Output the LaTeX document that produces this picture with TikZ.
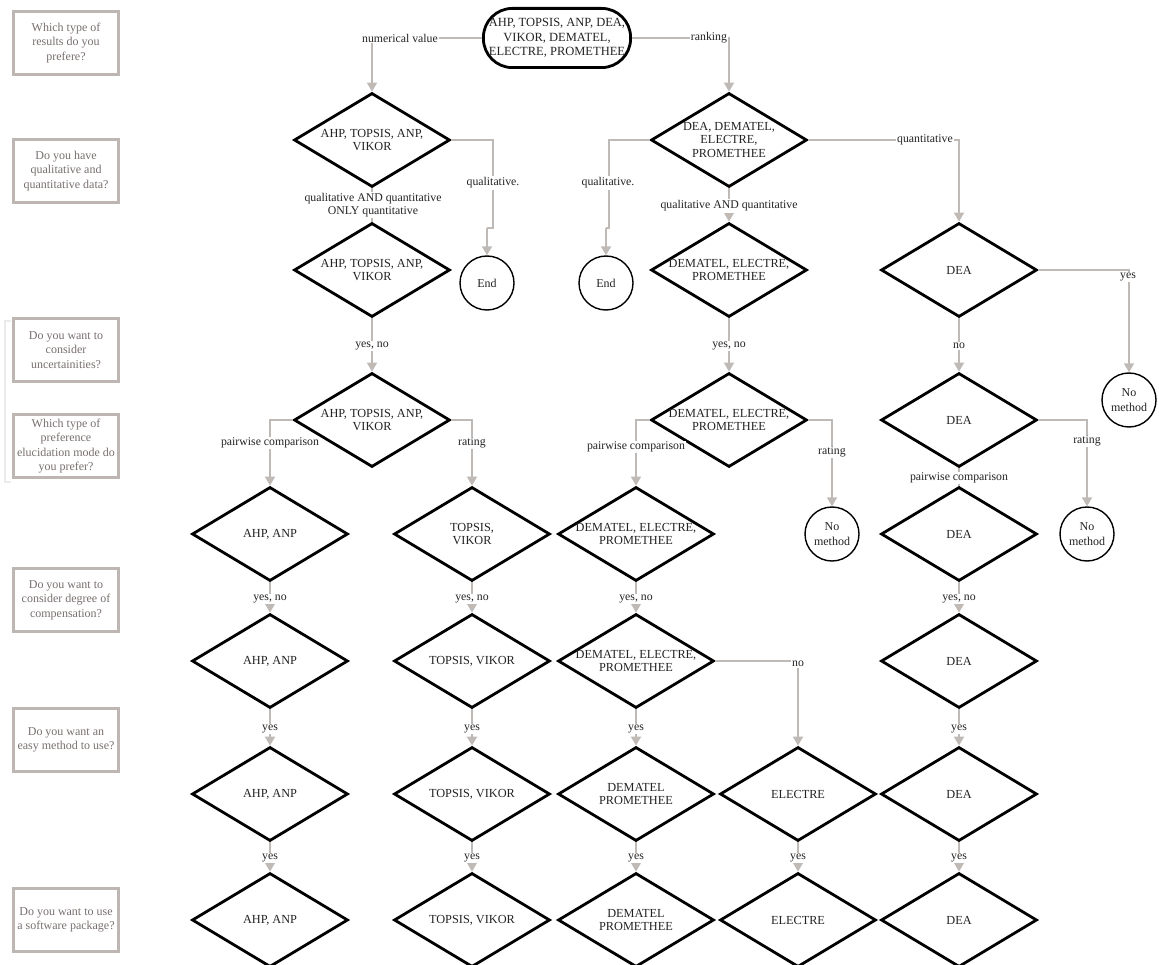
\documentclass[tikz,border=0pt]{standalone}
\usepackage{fontspec}
\setmainfont{Liberation Serif}
\usetikzlibrary{shapes.geometric,arrows.meta}
\definecolor{lgray}{RGB}{192,186,183}
\definecolor{qgray}{RGB}{190,182,178}
\definecolor{qtext}{RGB}{120,112,110}
\definecolor{ink}{RGB}{35,35,35}
\newcommand\dnode[3]{\node[dia] (#1) at (#2) {}; \node[txt] (#1t) at (#1) {#3};}
\begin{document}
\begin{tikzpicture}[x=1pt,y=-1pt,
  dia/.style={diamond, draw=black, line width=2.8pt, minimum width=156pt, minimum height=94pt, inner sep=0pt, fill=white, line join=miter},
  txt/.style={align=center, font=\fontsize{12.3}{13.8}\selectfont, inner sep=0pt, text=ink},
  lab/.style={fill=white, inner sep=1.2pt, align=center, font=\fontsize{11.8}{13.5}\selectfont, text=ink},
  qbox/.style={draw=qgray, line width=2.6pt, minimum width=105.4pt, minimum height=63.4pt, inner sep=0pt, align=center, text=qtext, font=\fontsize{12}{14.5}\selectfont},
  circ/.style={circle, draw=black, line width=1.4pt, minimum size=54pt, inner sep=0pt, fill=white, align=center, text=ink, font=\fontsize{12}{14.5}\selectfont},
  term/.style={rectangle, rounded corners=29pt, draw=black, line width=2.8pt, minimum width=147.2pt, minimum height=59.2pt, inner sep=0pt, fill=white, align=center, text=ink, font=\fontsize{12.5}{14.5}\selectfont},
  con/.style={draw=lgray, line width=1.8pt, -{Triangle[length=9pt,width=10pt]}},
  conn/.style={draw=lgray, line width=1.8pt}
]
\useasboundingbox (0,0) rectangle (1159,965);
\fill[white] (0,0) rectangle (1159,965);

% question boxes
\node[qbox] (q1) at (66,43) {Which type of\\results do you\\prefere?};
\node[qbox] (q2) at (66,171) {Do you have\\qualitative and\\quantitative data?};
\node[qbox] (q3) at (66,350) {Do you want to\\consider\\uncertainities?};
\node[qbox] (q4) at (66,446) {Which type of\\preference\\elucidation mode do\\you prefer?};
\node[qbox] (q5) at (66,600) {Do you want to\\consider degree of\\compensation?};
\node[qbox] (q6) at (66,740) {Do you want an\\easy method to use?};
\node[qbox] (q7) at (66,920) {Do you want to use\\a software package?};
\draw[black!8, line width=1.5pt] (11,321) -- (5,321) -- (5,482) -- (11,482);

% top terminal
\node[term] (top) at (557,38) {AHP, TOPSIS, ANP, DEA,\\VIKOR, DEMATEL,\\ELECTRE, PROMETHEE};

% diamonds
\dnode{a}{372,140}{AHP, TOPSIS, ANP,\\VIKOR}
\dnode{b}{729,140}{DEA, DEMATEL,\\ELECTRE,\\PROMETHEE}
\dnode{a2}{372,270}{AHP, TOPSIS, ANP,\\VIKOR}
\dnode{b2}{729,270}{DEMATEL, ELECTRE,\\PROMETHEE}
\dnode{c}{959,270}{DEA}
\dnode{a3}{372,420}{AHP, TOPSIS, ANP,\\VIKOR}
\dnode{b3}{729,420}{DEMATEL, ELECTRE,\\PROMETHEE}
\dnode{c3}{959,420}{DEA}
\dnode{r5a}{270,534}{AHP, ANP}
\dnode{r5b}{472,534}{TOPSIS,\\VIKOR}
\dnode{r5c}{636,534}{DEMATEL, ELECTRE,\\PROMETHEE}
\dnode{c4}{959,534}{DEA}
\dnode{r6a}{270,661}{AHP, ANP}
\dnode{r6b}{472,661}{TOPSIS, VIKOR}
\dnode{r6c}{636,661}{DEMATEL, ELECTRE,\\PROMETHEE}
\dnode{r6e}{959,661}{DEA}
\dnode{r7a}{270,794}{AHP, ANP}
\dnode{r7b}{472,794}{TOPSIS, VIKOR}
\dnode{r7c}{636,794}{DEMATEL\\PROMETHEE}
\dnode{r7d}{798,794}{ELECTRE}
\dnode{r7e}{959,794}{DEA}
\dnode{r8a}{270,920}{AHP, ANP}
\dnode{r8b}{472,920}{TOPSIS, VIKOR}
\dnode{r8c}{636,920}{DEMATEL\\PROMETHEE}
\dnode{r8d}{798,920}{ELECTRE}
\dnode{r8e}{959,920}{DEA}

% circles
\node[circ] (end1) at (487,283) {End};
\node[circ] (end2) at (606,283) {End};
\node[circ] (nm1) at (1129,400) {No\\method};
\node[circ] (nm2) at (832,534) {No\\method};
\node[circ] (nm3) at (1087,534) {No\\method};

% jog coordinates
\coordinate (j1) at (493,228);
\coordinate (j1b) at (487,228);
\coordinate (j2) at (609,228);
\coordinate (j2b) at (606,228);

% connectors
\draw[con] (top.west) -| (a.north);
\draw[con] (top.east) -| (b.north);
\draw[conn] (a.south) -- (a2.north);
\draw[conn] (a.east) -| (j1) -- (j1b);
\draw[con] (j1b) -- (end1.north);
\draw[conn] (b.west) -| (j2) -- (j2b);
\draw[con] (j2b) -- (end2.north);
\draw[con] (b.south) -- (b2.north);
\draw[con] (b.east) -| (c.north);
\draw[con] (c.east) -| (nm1.north);
\draw[con] (a2.south) -- (a3.north);
\draw[con] (b2.south) -- (b3.north);
\draw[con] (c.south) -- (c3.north);
\draw[con] (a3.west) -| (r5a.north);
\draw[con] (a3.east) -| (r5b.north);
\draw[con] (b3.west) -| (r5c.north);
\draw[con] (b3.east) -| (nm2.north);
\draw[conn] (c3.south) -- (c4.north);
\draw[con] (c3.east) -| (nm3.north);
\draw[con] (r5a.south) -- (r6a.north);
\draw[con] (r5b.south) -- (r6b.north);
\draw[con] (r5c.south) -- (r6c.north);
\draw[con] (c4.south) -- (r6e.north);
\draw[con] (r6c.east) -| (r7d.north);
\draw[con] (r6a.south) -- (r7a.north);
\draw[con] (r6b.south) -- (r7b.north);
\draw[con] (r6c.south) -- (r7c.north);
\draw[con] (r6e.south) -- (r7e.north);
\draw[con] (r7a.south) -- (r8a.north);
\draw[con] (r7b.south) -- (r8b.north);
\draw[con] (r7c.south) -- (r8c.north);
\draw[con] (r7d.south) -- (r8d.north);
\draw[con] (r7e.south) -- (r8e.north);

% labels
\node[lab] (l1) at (400,38) {numerical value};
\node[lab] (l2) at (709,38) {ranking};
\node[lab] (l3) at (373,205) {qualitative AND quantitative\\ONLY quantitative};
\node[lab] (l4) at (493,183) {qualitative.};
\node[lab] (l5) at (608,183) {qualitative.};
\node[lab] (l6) at (729,206) {qualitative AND quantitative};
\node[lab] (l7) at (925,140) {quantitative};
\node[lab] (l8) at (1128,277) {yes};
\node[lab] (l9) at (372,346) {yes, no};
\node[lab] (l10) at (729,346) {yes, no};
\node[lab] (l11) at (959,346) {no};
\node[lab] (l12) at (270,443) {pairwise comparison};
\node[lab] (l13) at (472,443) {rating};
\node[lab] (l14) at (636,447) {pairwise comparison};
\node[lab] (l15) at (832,452) {rating};
\node[lab] (l16) at (959,478) {pairwise comparison};
\node[lab] (l17) at (1087,441) {rating};
\node[lab] (l18) at (270,599) {yes, no};
\node[lab] (l19) at (472,599) {yes, no};
\node[lab] (l20) at (636,599) {yes, no};
\node[lab] (l21) at (959,599) {yes, no};
\node[lab] (l22) at (798,664) {no};
\node[lab] (l23) at (270,729) {yes};
\node[lab] (l24) at (472,729) {yes};
\node[lab] (l25) at (636,729) {yes};
\node[lab] (l26) at (959,729) {yes};
\node[lab] (l27) at (270,858) {yes};
\node[lab] (l28) at (472,858) {yes};
\node[lab] (l29) at (636,858) {yes};
\node[lab] (l30) at (798,858) {yes};
\node[lab] (l31) at (959,858) {yes};
\end{tikzpicture}
\end{document}
